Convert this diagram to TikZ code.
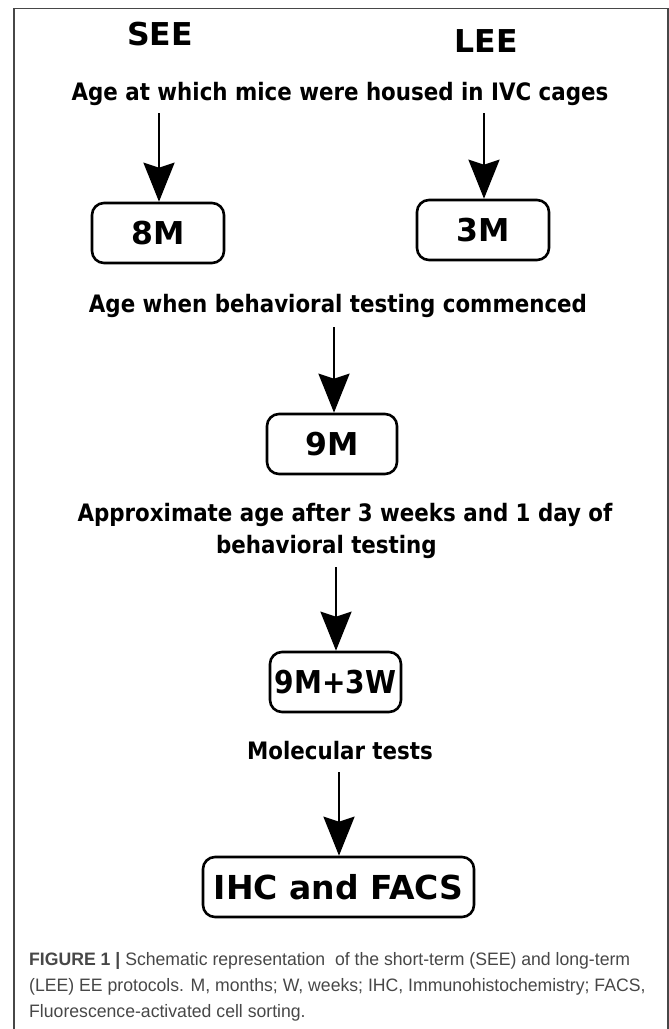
\documentclass[tikz,border=0pt]{standalone}
\usepackage{fontspec}
\setmainfont{DejaVu Sans}
\newfontfamily\lblfont[FakeStretch=0.99]{DejaVu Sans Condensed}
\newfontfamily\capfont[FakeStretch=0.98]{Liberation Sans}
\usetikzlibrary{arrows.meta}
\begin{document}
\begin{tikzpicture}[x=1pt,y=-1pt,
  box/.style={draw, line width=2.6pt, rounded corners=12pt, minimum height=60pt, inner sep=0pt, font=\fontsize{31.5}{36}\selectfont\bfseries},
  head/.style={anchor=base, inner sep=0pt, font=\fontsize{31.5}{36}\selectfont\bfseries},
  lbl/.style={anchor=base, inner sep=0pt, font=\lblfont\fontsize{24}{30}\selectfont\bfseries},
  arr/.style={line width=2.4pt, -{Stealth[length=39pt, width=31pt, inset=5pt]}},
  captext/.style={anchor=base west, inner sep=0pt, text=black!72, font=\capfont\fontsize{18}{26}\selectfont}]
\useasboundingbox (0,0) rectangle (669,1029);
% frame
\draw[black!72, line width=1.2pt] (14,1040) -- (14,8.5) -- (668,8.5) -- (668,1040);
% headings
\node[head] (see) at (160,45) {SEE};
\node[head] (lee) at (486,52) {LEE};
% labels
\node[lbl] (l1) at (340,100) {Age at which mice were housed in IVC cages};
\node[lbl] (l2) at (338,312) {Age when behavioral testing commenced};
\node[lbl] (l3a) at (345,521) {Approximate age after 3 weeks and 1 day of};
\node[lbl] (l3b) at (326.5,553) {behavioral testing};
\node[lbl] (l4) at (340,759) {Molecular tests};
% boxes
\node[box, minimum width=132pt] (b8) at (158,233) {8M};
\node[box, minimum width=132pt] (b3) at (483,230) {3M};
\node[box, minimum width=130pt] (b9) at (332,444) {9M};
\node[box, minimum width=131pt, font=\lblfont\fontsize{31.5}{36}\selectfont\bfseries] (b93) at (335.5,682) {9M+3W};
\node[box, minimum width=271pt, font=\fontsize{33}{38}\selectfont\bfseries] (bihc) at (338.5,887) {IHC and FACS};
% arrows
\coordinate (s1) at (159,113);
\coordinate (s2) at (484,113);
\coordinate (s3) at (334,327);
\coordinate (s4) at (336,567);
\coordinate (s5) at (339,772);
\draw[arr] (s1) -- (s1 |- b8.north);
\draw[arr] (s2) -- (s2 |- b3.north);
\draw[arr] (s3) -- (s3 |- b9.north);
\draw[arr] (s4) -- (s4 |- b93.north);
\draw[arr] (s5) -- (s5 |- bihc.north);
% caption
\node[captext] (c1) at (29,965) {{\bfseries FIGURE 1 |} Schematic representation\ \ of the short-term (SEE) and long-term};
\node[captext] (c2) at (29,991) {(LEE) EE protocols. M, months; W, weeks; IHC, Immunohistochemistry; FACS,};
\node[captext] (c3) at (29,1017) {Fluorescence-activated cell sorting.};
\end{tikzpicture}
\end{document}
